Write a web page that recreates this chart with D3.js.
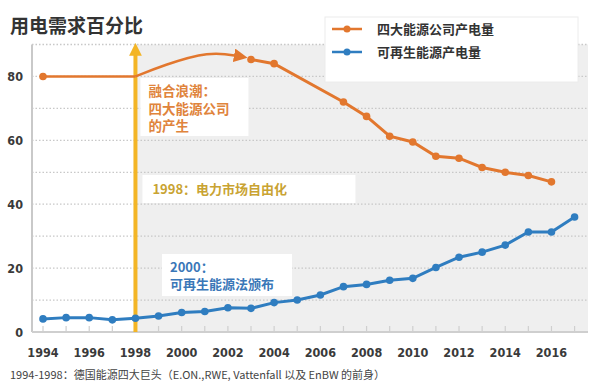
<!DOCTYPE html>
<html><head><meta charset="utf-8">
<script src="https://cdn.jsdelivr.net/npm/d3@7"></script>
<style>
body{margin:0;background:#fff;}
svg text{font-family:"Noto Sans CJK SC","Noto Sans",sans-serif;}
</style></head>
<body><svg id="c" width="600" height="390"></svg>
<script>
const years = d3.range(1994, 2018);
const tickYears = [1994,1996,1998,2000,2002,2004,2006,2008,2010,2012,2014,2016];
const tickLabels = ["1994","1996","1998","2000","2002","2004","2006","2008","2010","2012","2014","2016"];
const yTicks = [0,20,40,60,80];
const bigFourFlat = [[1994,80],[1998,80]];
const bigFourMergeArrow = [[1998,80],[1999.2,83.5],[2001.2,88],[2002.5,86.3]];
const bigFourYears = [2003,2004,2007,2008,2009,2010,2011,2012,2013,2014,2015,2016];
const bigFourValues = [85.3,84,72,67.5,61.3,59.5,55,54.4,51.5,50,49,47];
const renewValues = [4.1,4.5,4.5,3.8,4.3,5,6.1,6.4,7.6,7.4,9.2,10,11.6,14.2,14.9,16.2,16.8,20.2,23.4,25,27.2,31.3,31.3,36];
const seriesNames = ["四大能源公司产电量","可再生能源产电量"];

const svg = d3.select("#c");
const orange = "#e2772e", blue = "#2f7dc0", gold = "#f3b526";
const x = d3.scaleLinear().domain([1994,2018.1]).range([43,600]);
const y = d3.scaleLinear().domain([0,90]).range([332,44.5]);
const left = 32, right = 588;

svg.append("rect").attr("x",x(1998)).attr("y",y(90)).attr("width",right-x(1998)).attr("height",y(0)-y(90)).attr("fill","#efefef");

svg.append("g").selectAll("line").data(d3.range(10,91,10)).join("line")
 .attr("x1",left).attr("x2",right).attr("y1",d=>y(d)).attr("y2",d=>y(d))
 .attr("stroke","#c8c8c8").attr("stroke-width",1.3).attr("stroke-dasharray","1.5,2");

svg.append("line").attr("x1",left).attr("x2",left).attr("y1",y(90)).attr("y2",y(0)).attr("stroke","#c9c9c9").attr("stroke-width",2);
svg.append("line").attr("x1",left).attr("x2",right).attr("y1",y(0)).attr("y2",y(0)).attr("stroke","#cfcfcf").attr("stroke-width",2);
svg.append("g").selectAll("line").data(years).join("line")
 .attr("x1",d=>x(d)).attr("x2",d=>x(d)).attr("y1",y(0)).attr("y2",y(0)-6).attr("stroke","#cfcfcf").attr("stroke-width",1.2);
svg.append("g").selectAll("text").data(tickYears).join("text")
 .attr("x",d=>x(d)).attr("y",357).attr("text-anchor","middle")
 .attr("font-size",12.5).attr("font-weight","bold").attr("fill","#3a3a3a")
 .style("font-family","'DejaVu Sans Condensed','DejaVu Sans',sans-serif")
 .text((d,i)=>tickLabels[i]);
svg.append("g").selectAll("text").data(yTicks).join("text")
 .attr("x",23).attr("y",d=>y(d)+5).attr("text-anchor","end")
 .attr("font-size",12.5).attr("font-weight","bold").attr("fill","#3a3a3a")
 .style("font-family","'DejaVu Sans Condensed','DejaVu Sans',sans-serif")
 .text(d=>d);

svg.append("text").attr("x",10).attr("y",33).attr("font-size",19).attr("font-weight","bold").attr("fill","#333").text("用电需求百分比");

function box(x0,y0,w,h){svg.append("rect").attr("x",x0).attr("y",y0).attr("width",w).attr("height",h).attr("fill","#fff");}
box(x(1998)+5,78,108,58);
box(x(1998)+7,175,213,28);
box(162,254,130,42);

const defs = svg.append("defs");
defs.append("marker").attr("id","ya").attr("viewBox","0 0 10 10").attr("refX",5).attr("refY",5)
 .attr("markerWidth",3.2).attr("markerHeight",3.2).attr("orient","auto")
 .append("path").attr("d","M0,0L10,5L0,10Z").attr("fill",gold);
defs.append("marker").attr("id","oa").attr("viewBox","0 0 10 10").attr("refX",4).attr("refY",5)
 .attr("markerWidth",5.5).attr("markerHeight",5.5).attr("orient","auto")
 .append("path").attr("d","M0,0L10,5L0,10Z").attr("fill",orange);
svg.append("line").attr("x1",x(1998)).attr("x2",x(1998)).attr("y1",y(0)).attr("y2",y(88.5))
 .attr("stroke",gold).attr("stroke-width",4).attr("marker-end","url(#ya)");

const line = d3.line().x(d=>x(d[0])).y(d=>y(d[1]));

svg.append("path").attr("d",line(bigFourFlat)).attr("fill","none").attr("stroke",orange).attr("stroke-width",2.5);
svg.append("path").attr("d",line.curve(d3.curveBasis)(bigFourMergeArrow)).attr("fill","none").attr("stroke",orange).attr("stroke-width",2.5).attr("marker-end","url(#oa)");
line.curve(d3.curveLinear);
const bf = bigFourYears.map((yr,i)=>[yr,bigFourValues[i]]);
svg.append("path").attr("d",line(bf)).attr("fill","none").attr("stroke",orange).attr("stroke-width",3);
svg.append("g").selectAll("circle").data([bigFourFlat[0]].concat(bf)).join("circle")
 .attr("cx",d=>x(d[0])).attr("cy",d=>y(d[1])).attr("r",3.8).attr("fill",orange);

const rn = years.map((yr,i)=>[yr,renewValues[i]]);
svg.append("path").attr("d",line(rn)).attr("fill","none").attr("stroke",blue).attr("stroke-width",3);
svg.append("g").selectAll("circle").data(rn).join("circle")
 .attr("cx",d=>x(d[0])).attr("cy",d=>y(d[1])).attr("r",3.8).attr("fill",blue);

["融合浪潮：","四大能源公司","的产生"].forEach((t,i)=>svg.append("text").attr("x",x(1998)+13).attr("y",96+i*17.5)
  .attr("font-size",13.5).attr("font-weight","bold").attr("fill","#e0843c").text(t));
svg.append("text").attr("x",x(1998)+17).attr("y",194).attr("font-size",13).attr("font-weight","bold").attr("fill","#c9a332").text("1998：电力市场自由化");
["2000：","可再生能源法颁布"].forEach((t,i)=>svg.append("text").attr("x",170).attr("y",272+i*17)
  .attr("font-size",13).attr("font-weight","bold").attr("fill","#3a77b8").text(t));

svg.append("rect").attr("x",325).attr("y",17).attr("width",253).attr("height",65).attr("fill","#fff")
 .attr("stroke","#ececec").attr("stroke-width",1);
[orange,blue].forEach((c,i)=>{
  const ly = 29+i*23;
  svg.append("line").attr("x1",332).attr("x2",362).attr("y1",ly).attr("y2",ly).attr("stroke",c).attr("stroke-width",2.5);
  svg.append("circle").attr("cx",347).attr("cy",ly).attr("r",3.5).attr("fill",c);
  svg.append("text").attr("x",377).attr("y",ly+5).attr("font-size",13).attr("font-weight","bold").attr("fill","#333").text(seriesNames[i]);
});

svg.append("text").attr("x",10).attr("y",379).attr("font-size",11).attr("fill","#444")
 .text("1994-1998：德国能源四大巨头（E.ON.,RWE, Vattenfall 以及 EnBW 的前身）");
</script></body></html>
